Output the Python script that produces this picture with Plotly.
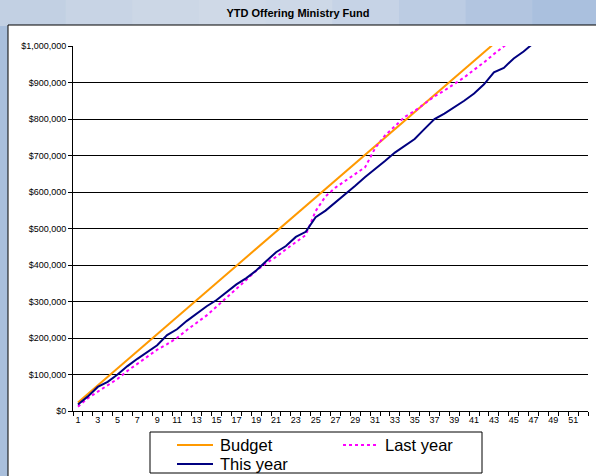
import plotly.graph_objects as go

weeks = list(range(1, 53))
tick_labels = [str(w) for w in range(1, 53, 2)]

budget = [23400, 46800, 70200, 93600, 117000, 140400, 163800, 187200, 210600, 234000,
          257400, 280800, 304200, 327600, 351000, 374400, 397800, 421200, 444600, 468000,
          491400, 514800, 538200, 561600, 585000, 608400, 631800, 655200, 678600, 702000,
          725400, 748800, 772200, 795600, 819000, 842400, 865800, 889200, 912600, 936000,
          959400, 982800, 1006200, 1029600]

last_year = [12000, 35000, 53000, 70000, 88000, 110000, 130000, 150000, 168000, 183000,
             200000, 222000, 243000, 262000, 286000, 310000, 336000, 360000, 384000, 405000,
             422000, 443000, 462000, 482000, 548000, 588000, 612000, 630000, 648000, 668000,
             720000, 755000, 780000, 806000, 822000, 842000, 862000, 878000, 895000, 914000,
             935000, 955000, 978000, 1000000, 1020000]

this_year = [18000, 40000, 66000, 80000, 100000, 123000, 143000, 161000, 180000, 208000,
             224000, 247000, 268000, 287000, 304000, 325000, 347000, 364000, 385000, 410000,
             435000, 452000, 477000, 491000, 531000, 549000, 571000, 594000, 617000, 641000,
             662000, 685000, 708000, 727000, 745000, 773000, 800000, 815000, 832000, 850000,
             870000, 895000, 928000, 940000, 966000, 985000, 1008000, 1030000]

series_names = ["Budget", "Last year", "This year"]
series_colors = ["#FF9900", "#FF00FF", "#000080"]
series_dash = ["solid", "dot", "solid"]

y_ticks = list(range(0, 1000001, 100000))
y_labels = ["$0"] + ["${:,}".format(v) for v in y_ticks[1:]]

FONT = "Arial, Liberation Sans, sans-serif"

fig = go.Figure()
for data, name, col, dash in zip([budget, last_year, this_year], series_names, series_colors, series_dash):
    fig.add_trace(go.Scatter(x=weeks[:len(data)], y=data, mode="lines", name=name,
                             line=dict(color=col, width=2, dash=dash), showlegend=False))

L, R, T, B = 73, 8, 46, 65
W, H = 596, 476
pw, ph = W - L - R, H - T - B

def px(xpix):
    return (xpix - L) / pw

def py(ypix):
    return (H - B - ypix) / ph

shapes = []
# soft sky gradient strips in the top band (decorative background)
sky = ["#c2d0e3", "#c8d4e5", "#ccd7e6", "#cfd9e7", "#cdd8e7", "#c6d3e6", "#bccce3", "#b2c5e0", "#aac0de"]
step = 600 / len(sky)
for i, c in enumerate(sky):
    shapes.append(dict(type="rect", xref="paper", yref="paper", x0=px(i * step - 1), x1=px((i + 1) * step + 1),
                       y0=py(26), y1=py(-5), fillcolor=c, line=dict(width=0), layer="below"))
shapes += [
    dict(type="rect", xref="paper", yref="paper", x0=px(-5), x1=px(8), y0=py(480), y1=py(26),
         fillcolor="#a9bfdc", line=dict(width=0), layer="below"),
    # white chart box
    dict(type="rect", xref="paper", yref="paper", x0=px(8), x1=px(605), y0=py(485), y1=py(25),
         fillcolor="white", line=dict(color="black", width=1), layer="below"),
    # legend box
    dict(type="rect", xref="paper", yref="paper", x0=px(150), x1=px(482), y0=py(473), y1=py(432),
         fillcolor="white", line=dict(color="black", width=1)),
]

annotations = []
# manual legend entries: (sample x start, sample x end, y, text x)
legend_pos = [(177, 213, 445, 218), (343, 376, 445, 383), (177, 213, 464, 218)]
for (x0, x1, yy, tx), name, col, dash in zip(legend_pos, series_names, series_colors, series_dash):
    shapes.append(dict(type="line", xref="paper", yref="paper", x0=px(x0), x1=px(x1),
                       y0=py(yy), y1=py(yy), line=dict(color=col, width=2, dash=dash)))
    annotations.append(dict(text=name, xref="paper", yref="paper", x=px(tx), y=py(yy),
                            xanchor="left", yanchor="middle", showarrow=False,
                            font=dict(size=16.5, family=FONT, color="black")))

fig.update_layout(
    width=W, height=H,
    margin=dict(l=L, r=R, t=T, b=B, autoexpand=False),
    paper_bgcolor="#c6d4e6",
    plot_bgcolor="white",
    font=dict(family=FONT, color="black"),
    title=dict(text="<b>YTD Offering Ministry Fund</b>", x=0.5, xanchor="center",
               y=1 - 13 / H, yanchor="middle", font=dict(size=11, family=FONT)),
    shapes=shapes,
    annotations=annotations,
    showlegend=False,
    xaxis=dict(range=[0.5, 52.5], tickmode="array", tickvals=list(range(1, 53, 2)),
               ticktext=tick_labels, showgrid=False, zeroline=False,
               showline=True, linecolor="black", linewidth=1,
               ticks="", tickfont=dict(size=9, family=FONT),
               minor=dict(tickmode="array", tickvals=[w + 0.5 for w in range(0, 53)],
                          ticks="outside", ticklen=4, tickcolor="black", tickwidth=1,
                          showgrid=False)),
    yaxis=dict(range=[0, 1000000], tickmode="array", tickvals=y_ticks, ticktext=y_labels,
               showgrid=True, gridcolor="black", gridwidth=1, zeroline=False,
               showline=True, linecolor="black", linewidth=1,
               ticks="outside", ticklen=4, tickcolor="black",
               tickfont=dict(size=9, family=FONT)),
)

fig.write_html("out.html", config={"displayModeBar": False},
               post_script="document.body.style.margin='0';document.body.style.overflow='hidden';")
